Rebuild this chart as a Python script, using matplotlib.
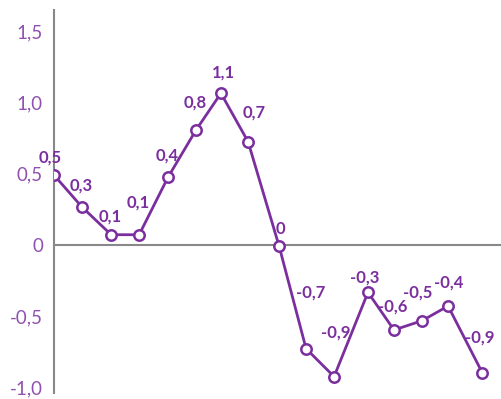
import numpy as np
import matplotlib.pyplot as plt

x = np.array([0, 1.0, 2.04, 3.04, 4.07, 5.07, 5.96, 6.93, 8.04, 9.0, 10.0, 11.21, 12.14, 13.14, 14.07, 15.29])
y = np.array([0.49, 0.266, 0.072, 0.072, 0.475, 0.806, 1.064, 0.724, -0.01, -0.727, -0.923, -0.332, -0.596, -0.531, -0.428, -0.895])
labels = ['0,5', '0,3', '0,1', '0,1', '0,4', '0,8', '1,1', '0,7', '0',
          '-0,7', '-0,9', '-0,3', '-0,6', '-0,5', '-0,4', '-0,9']
yticks = [-1.0, -0.5, 0, 0.5, 1.0, 1.5]
ytick_labels = ['-1,0', '-0,5', '0', '0,5', '1,0', '1,5']

# label offsets in pixels (dx, dy)
offsets = [(-4, 18), (-1, 22), (-1, 18), (-1, 32), (-1, 22), (-1, 28), (2, 21), (6, 29), (1, 17),
           (5, 56), (2, 44), (-3, 15), (-1, 23), (-4, 28), (1, 24), (-2, 35)]

purple = '#7b2f9e'
light = '#9050b0'

fig = plt.figure(figsize=(5.01, 3.99), dpi=100)
ax = fig.add_axes([0.1078, 0.015, 0.8922, 0.96])
ax.axhline(0, color='#888888', lw=1.5, zorder=1)
ax.plot(x, y, color=purple, lw=2, marker='o', ms=7.5, mfc='white', mec=purple, mew=1.8, zorder=3)
for xi, yi, lab, (dx, dy) in zip(x, y, labels, offsets):
    ax.annotate(lab, (xi, yi), xytext=(dx, dy), textcoords='offset pixels',
                ha='center', va='center', fontsize=12, fontweight='bold',
                color=purple, family='Lato')

ax.set_xlim(0, 15.96)
ax.set_ylim(-1.038, 1.648)
ax.set_yticks(yticks)
ax.set_yticklabels(ytick_labels, fontsize=13.5, color=light, family='Lato', fontweight='normal')
ax.tick_params(axis='y', length=0, pad=8)
ax.set_xticks([])
for s in ['top', 'right', 'bottom']:
    ax.spines[s].set_visible(False)
ax.spines['left'].set_color('#888888')
ax.spines['left'].set_linewidth(1.5)
ax.patch.set_visible(False)

fig.savefig('out.png', dpi=100)
